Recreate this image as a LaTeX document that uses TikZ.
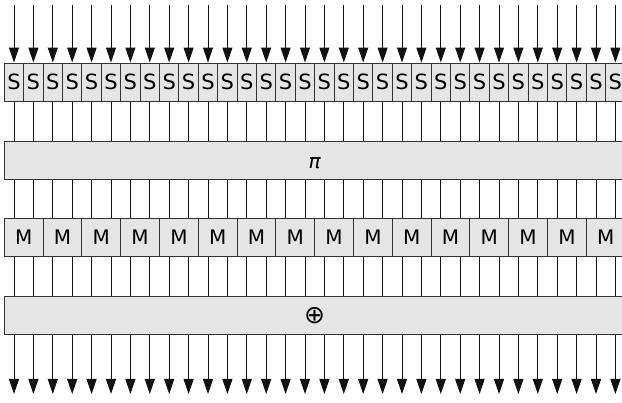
\documentclass[tikz,border=0pt]{standalone}
\usepackage{fontspec}
\setmainfont{DejaVu Sans}
\usepackage{tikz}
\usetikzlibrary{arrows.meta, positioning}
\definecolor{boxFill}{RGB}{229, 229, 229}
\definecolor{boxLine}{RGB}{51, 51, 51}
\definecolor{wireLine}{RGB}{17, 17, 17}
\tikzset{
  sBox/.style={
    draw=boxLine,
    fill=boxFill,
    line width=0.9pt,
    minimum width=19.4pt,
    minimum height=38.5pt,
    inner sep=0pt,
    font=\fontsize{21}{24}\selectfont
  },
  mBox/.style={
    sBox,
    minimum width=38.8pt,
    font=\fontsize{20}{24}\selectfont
  },
  wideBox/.style={
    sBox,
    minimum width=620.8pt,
    font=\fontsize{20}{24}\selectfont
  },
  wire/.style={
    draw=wireLine,
    line width=1pt
  },
  wireArrow/.style={
    wire,
    -{Triangle[width=10pt,length=15pt]}
  }
}
\begin{document}
\begin{tikzpicture}[x=1pt, y=-1pt]
  \useasboundingbox (0,0) rectangle (622,403);
  % wide layers
  \node[wideBox, text height=16pt, text depth=0pt] (perm) at (314.7,160.25) {\itshape π};
  \node[wideBox, font=\fontsize{25}{28}\selectfont] (xor) at (314.7,315.25) {⊕};
  % S layer, one box per wire
  \foreach \i in {1,...,32} {
    \node[sBox] (s\i) at ({14+(\i-1)*19.4},82.25) {S};
    \coordinate (in\i) at ({14+(\i-1)*19.4},5);
    \coordinate (out\i) at ({14+(\i-1)*19.4},394);
  }
  % M layer, one box per two wires
  \foreach \j in {1,...,16} {
    \node[mBox] (m\j) at ({14+(2*\j-1.5)*19.4},237.5) {M};
  }
  % wires between the layers
  \foreach \i in {1,...,32} {
    \draw[wireArrow] (in\i) -- (s\i.north);
    \draw[wire] (s\i.south) -- (s\i.south |- perm.north);
    \draw[wire] (s\i.south |- perm.south) -- (s\i.south |- m1.north);
    \draw[wire] (s\i.south |- m1.south) -- (s\i.south |- xor.north);
    \draw[wireArrow] (s\i.south |- xor.south) -- (out\i);
  }
\end{tikzpicture}
\end{document}
